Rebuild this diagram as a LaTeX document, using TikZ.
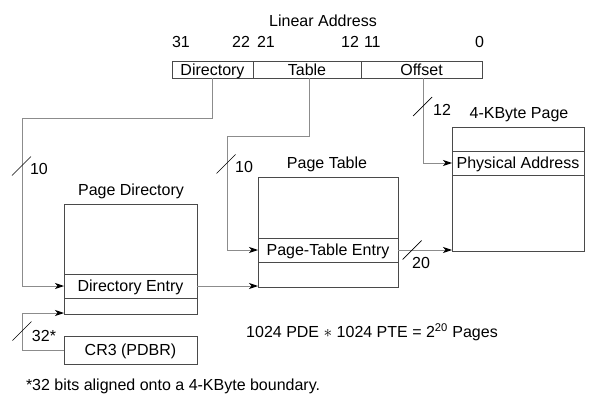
\documentclass[tikz,border=0pt]{standalone}
\usepackage{fontspec}
\setmainfont{Liberation Sans}
\usetikzlibrary{arrows.meta,calc}
\definecolor{boxline}{HTML}{4A4A4A}
\definecolor{wire}{HTML}{8C8C8C}
\begin{document}
\begin{tikzpicture}[x=1pt,y=-1pt,
  font=\fontsize{16}{19}\selectfont,
  every node/.style={inner sep=0pt, outer sep=0pt, text height=11.5pt, text depth=0pt},
  field/.style={draw=boxline, line width=0.9pt, minimum height=17pt},
  mem/.style={draw=boxline, line width=0.9pt},
  row/.style={draw=boxline, line width=0.9pt, minimum height=24pt},
  lbl/.style={},
  conn/.style={draw=wire, line width=0.9pt},
  arr/.style={conn, -{Stealth[length=9pt,width=6pt,inset=2.5pt,color=black,fill=black]}},
  slashmark/.style={draw=black, line width=0.7pt}
]
\useasboundingbox (0,0) rectangle (607,401);

% Linear address register with its three fields
\node[lbl] (title) at (323,21) {Linear Address};
\node[field, minimum width=81pt]  (dir) at (212.5,69.5) {Directory};
\node[field, minimum width=108pt] (tab) at (307,69.5)   {Table};
\node[field, minimum width=121pt] (off) at (421.5,69.5) {Offset};
\node[lbl, anchor=west] (b31) at (172,42) {31};
\node[lbl, anchor=east] (b22) at (250,42) {22};
\node[lbl, anchor=west] (b21) at (257,42) {21};
\node[lbl, anchor=east] (b12) at (359,42) {12};
\node[lbl, anchor=west] (b11) at (364,42) {11};
\node[lbl, anchor=east] (b0)  at (484,42) {0};

% Page directory
\node[lbl] (pdlabel) at (131,190) {Page Directory};
\node[mem, minimum width=133pt, minimum height=110pt] (pd) at (130.5,259) {};
\node[row, minimum width=133pt] (pde) at (130.5,286) {Directory Entry};

% Page table
\node[lbl] (ptlabel) at (327,163) {Page Table};
\node[mem, minimum width=140pt, minimum height=110pt] (pt) at (328,232) {};
\node[row, minimum width=140pt] (pte) at (328,250) {Page-Table Entry};

% 4-KByte page
\node[lbl] (pglabel) at (519,113) {4-KByte Page};
\node[mem, minimum width=132pt, minimum height=124pt] (pg) at (518,189) {};
\node[row, minimum width=132pt] (pa) at (518,163) {Physical Address};

% Control register 3
\node[mem, minimum width=133pt, minimum height=28pt] (cr3) at (130.5,350) {CR3 (PDBR)};

% Routing corners
\coordinate (dbend) at (22,118);
\coordinate (tbend) at (227,136);
\coordinate (cbend) at (22,313);

% Connectors
\draw[arr] (dir.south) |- (dbend) |- (pde.west);
\draw[arr] ([xshift=2pt]tab.south) |- (tbend) |- (pte.west);
\draw[arr] ([xshift=1.5pt]off.south) |- (pa.west);
\draw[arr] (pde.east) -- (pde.east -| pt.west);
\draw[arr] (pte.east) -- (pte.east -| pg.west);
\draw[conn] (cr3.west) -| (cbend);
\draw[arr] (cbend) -- (cbend -| pd.west);

% Bus-width marks
\coordinate (s1) at (21.5,166);
\coordinate (s2) at (226,164);
\coordinate (s3) at (422.5,106.5);
\coordinate (s4) at (412,250);
\coordinate (s5) at (22,331);
\foreach \s in {s1,s2,s3,s4,s5}
  \draw[slashmark] ($(\s)+(-9.5,9.5)$) -- ($(\s)+(9.5,-9.5)$);
\node[lbl] (w1) at (39,169) {10};
\node[lbl] (w2) at (244,167) {10};
\node[lbl] (w3) at (442,110) {12};
\node[lbl] (w4) at (421,263) {20};
\node[lbl] (w5) at (44,336) {32*};

% Capacity note and footnote
\node[lbl] (calc) at (372,332) {1024 PDE $\ast$ 1024 PTE = 2\textsuperscript{20} Pages};
\node[lbl, anchor=west] (foot) at (26,385) {*32 bits aligned onto a 4-KByte boundary.};
\end{tikzpicture}
\end{document}
